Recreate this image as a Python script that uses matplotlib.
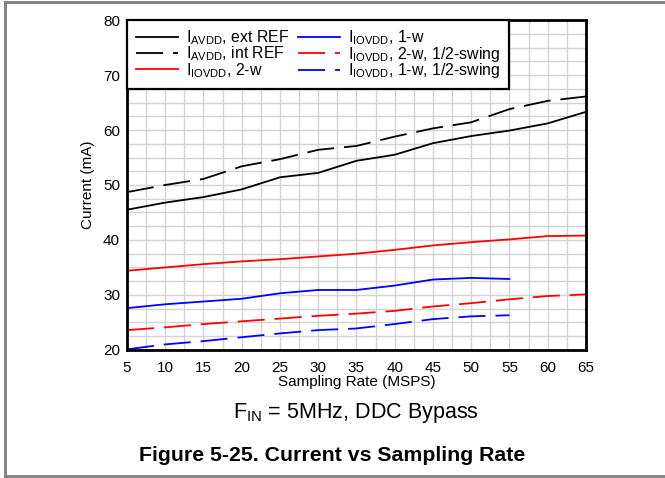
import matplotlib
matplotlib.use("Agg")
import matplotlib.pyplot as plt
from matplotlib.lines import Line2D

plt.rcParams['font.family'] = ['Liberation Sans', 'DejaVu Sans']
plt.rcParams['mathtext.fontset'] = 'custom'
plt.rcParams['mathtext.rm'] = 'Liberation Sans'

# sampling rate (MSPS)
rate = [5, 10, 15, 20, 25, 30, 35, 40, 45, 50, 55, 60, 65]
rate_short = [5, 10, 15, 20, 25, 30, 35, 40, 45, 50, 55]

# currents (mA)
avdd_ext = [45.5, 46.8, 47.8, 49.2, 51.4, 52.2, 54.4, 55.5, 57.6, 58.9, 59.9, 61.2, 63.3]
avdd_int = [48.7, 50.0, 51.1, 53.4, 54.7, 56.4, 57.1, 58.8, 60.3, 61.4, 63.8, 65.3, 66.1]
iovdd_2w = [34.4, 35.0, 35.6, 36.1, 36.5, 37.0, 37.5, 38.2, 39.0, 39.6, 40.1, 40.7, 40.8]
iovdd_1w = [27.6, 28.3, 28.8, 29.3, 30.3, 30.9, 30.9, 31.7, 32.8, 33.1, 32.9]
iovdd_2w_half = [23.6, 24.1, 24.7, 25.2, 25.7, 26.2, 26.6, 27.1, 27.9, 28.5, 29.2, 29.8, 30.1]
iovdd_1w_half = [20.1, 21.0, 21.6, 22.3, 23.0, 23.6, 23.9, 24.7, 25.6, 26.1, 26.3]

labels = [r'I$_{\mathregular{AVDD}}$, ext REF',
          r'I$_{\mathregular{AVDD}}$, int REF',
          r'I$_{\mathregular{IOVDD}}$, 2-w',
          r'I$_{\mathregular{IOVDD}}$, 1-w',
          r'I$_{\mathregular{IOVDD}}$, 2-w, 1/2-swing',
          r'I$_{\mathregular{IOVDD}}$, 1-w, 1/2-swing']

dash = (0, (15, 5.5))
lw = 1.3

fig = plt.figure(figsize=(6.65, 4.78), dpi=100)
ax = fig.add_axes([0.191, 0.268, 0.690, 0.690])

ax.plot(rate, avdd_ext, color='black', lw=lw, label=labels[0])
ax.plot(rate, avdd_int, color='black', lw=lw, ls=dash, label=labels[1])
ax.plot(rate, iovdd_2w, color='#ff0000', lw=lw, label=labels[2])
ax.plot(rate_short, iovdd_1w, color='#0000ff', lw=lw, label=labels[3])
ax.plot(rate, iovdd_2w_half, color='#ff0000', lw=lw, ls=dash, label=labels[4])
ax.plot(rate_short, iovdd_1w_half, color='#0000ff', lw=lw, ls=dash, label=labels[5])

ax.set_xlim(5, 65)
ax.set_ylim(20, 80)
ax.set_xticks(range(5, 66, 5))
ax.set_yticks(range(20, 81, 10))
ax.set_xticks([x + 2.5 for x in range(5, 65, 5)], minor=True)
ax.set_yticks([20 + 2.5 * i for i in range(25)], minor=True)
ax.grid(True, which='both', color='#d3d3d3', lw=1.0)
ax.set_axisbelow(True)
ax.tick_params(which='both', length=0, labelsize=11)
ax.tick_params(axis='x', pad=8)
ax.tick_params(axis='y', pad=5)
for s in ax.spines.values():
    s.set_linewidth(2.0)
    s.set_color('black')

ax.set_xlabel('Sampling Rate (MSPS)', fontsize=11, labelpad=0)
ax.set_ylabel('Current (mA)', fontsize=11, labelpad=6)

leg = ax.legend(ncol=2, loc='upper left', fontsize=11.4, frameon=True, fancybox=False,
                handlelength=2.7, handletextpad=0.5, columnspacing=0.5,
                labelspacing=-0.17, borderaxespad=0, borderpad=0.55)
leg.get_frame().set_edgecolor('black')
leg.get_frame().set_linewidth(1.6)
leg.get_frame().set_alpha(1)

# caption under the plot: condition centred on the axes, figure title on the page
fig.text(0.536, 0.137, r'F$_{\mathregular{IN}}$ = 5MHz, DDC Bypass', ha='center', va='center', fontsize=15.5)
fig.text(0.5, 0.048, 'Figure 5-25. Current vs Sampling Rate', ha='center', va='center',
         fontsize=15.3, fontweight='bold')

# outer frame of the figure
fig.add_artist(Line2D([0.007, 1.0], [0.995, 0.995], color='#808080', lw=2.0, transform=fig.transFigure))
fig.add_artist(Line2D([0.007, 0.007], [0.004, 0.995], color='#808080', lw=2.0, transform=fig.transFigure))
fig.add_artist(Line2D([0.007, 1.0], [0.004, 0.004], color='#808080', lw=2.0, transform=fig.transFigure))

fig.savefig('out.png', dpi=100)
